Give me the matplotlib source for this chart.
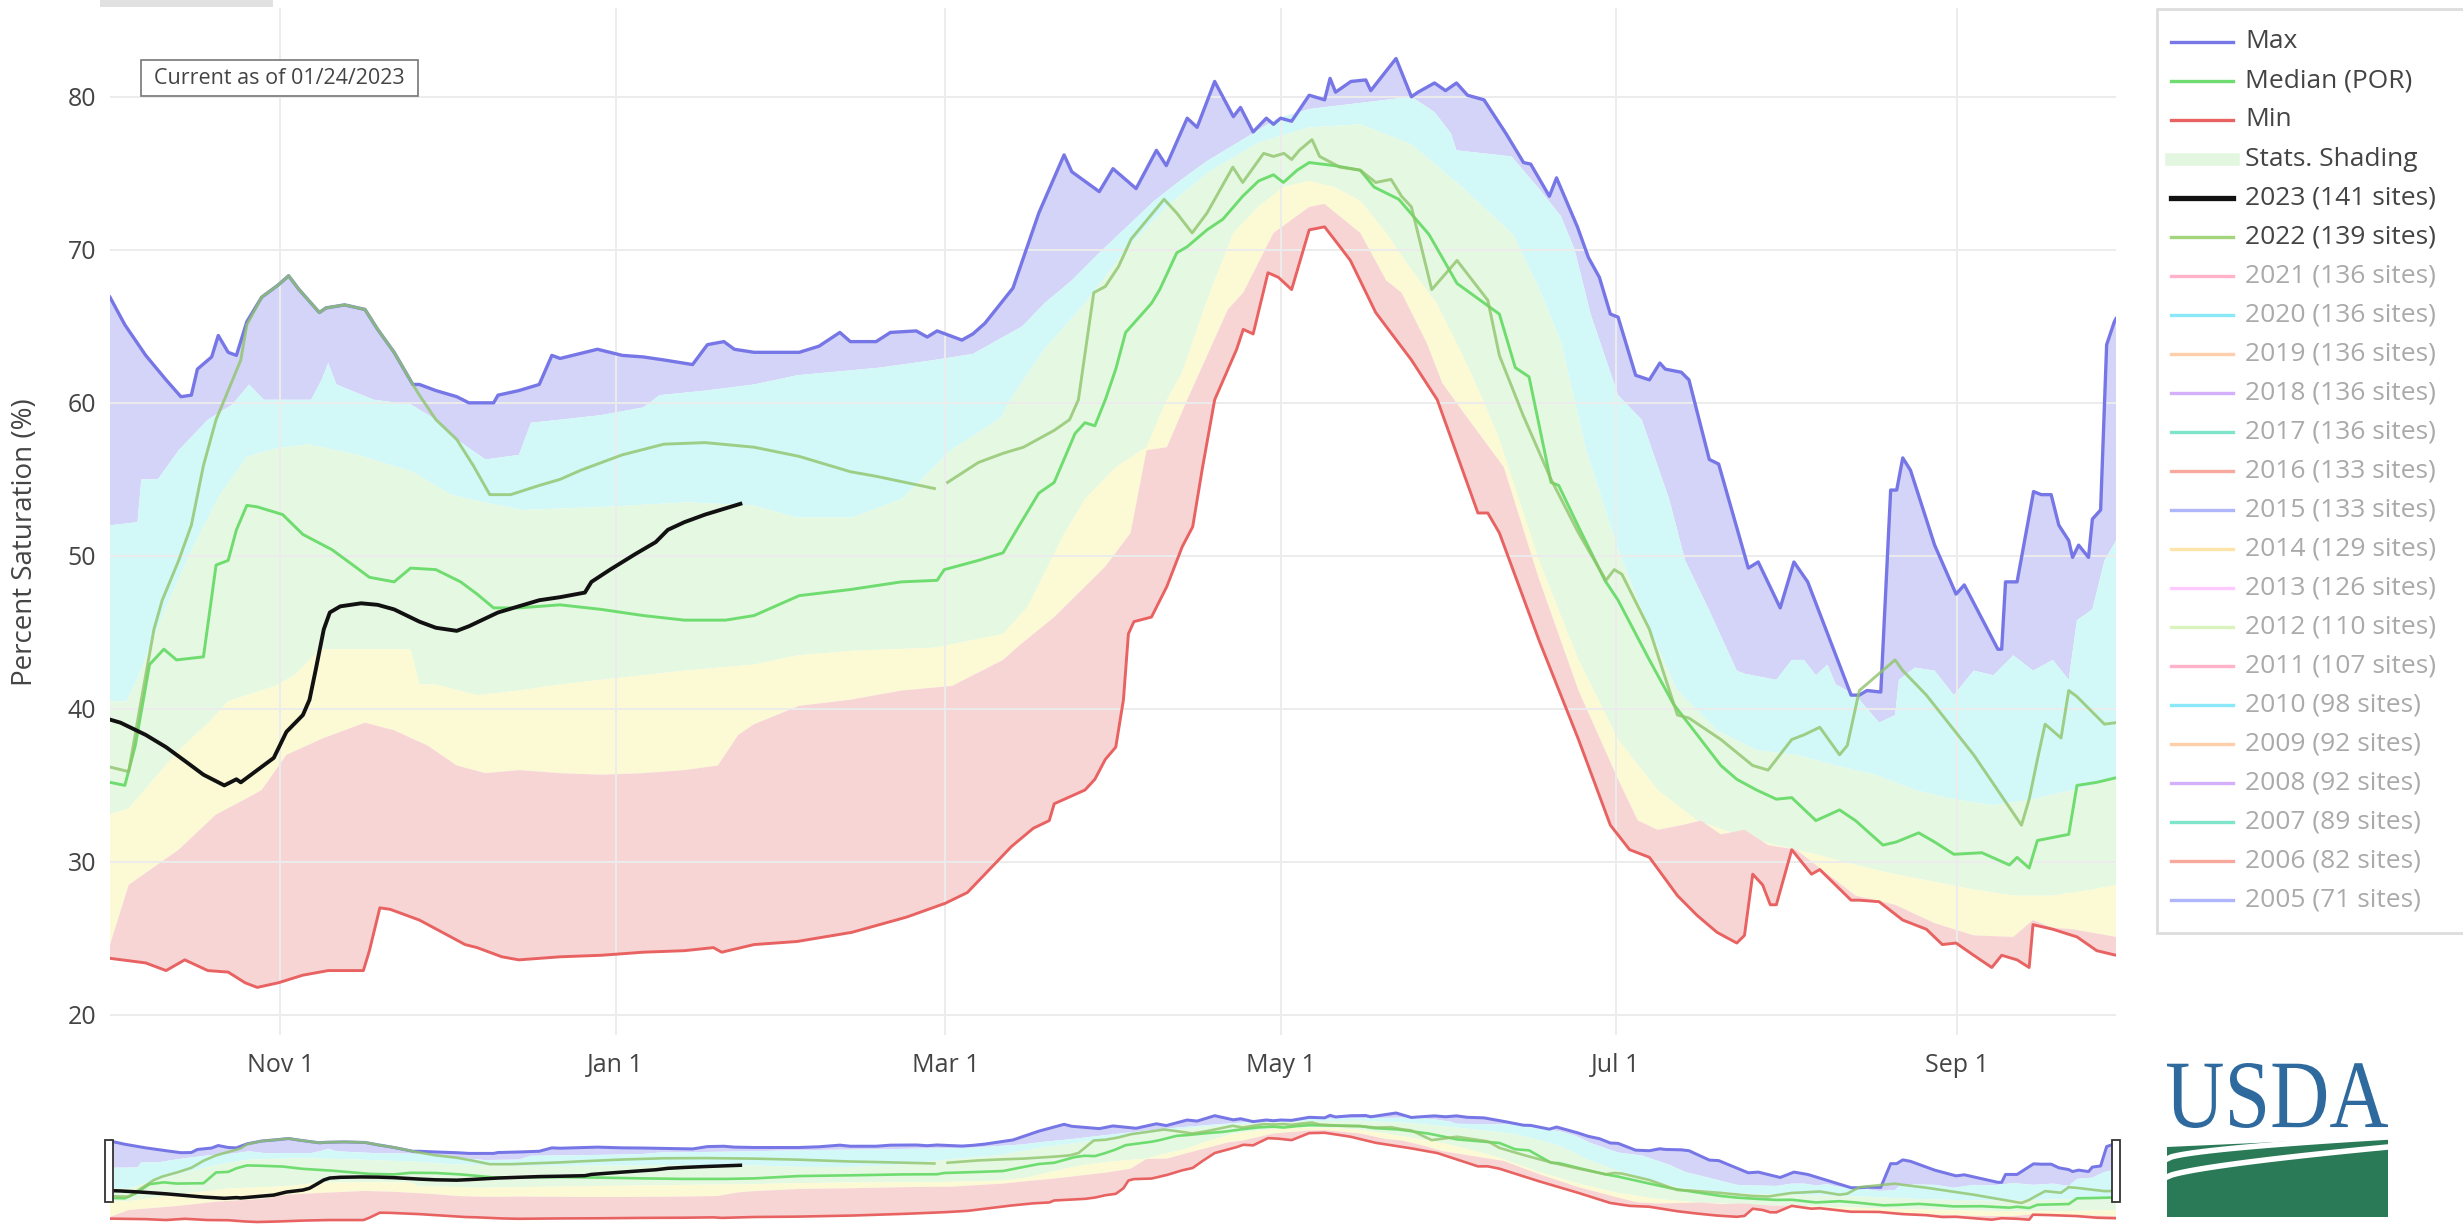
import numpy as np
import matplotlib
matplotlib.use('Agg')
import matplotlib.pyplot as plt
import matplotlib.dates as mdates
from matplotlib.patches import Rectangle, PathPatch, Polygon
from matplotlib.lines import Line2D
from matplotlib.textpath import TextPath
from matplotlib.font_manager import FontProperties
from matplotlib.transforms import Affine2D
from datetime import datetime

plt.rcParams['font.family'] = ['Open Sans', 'DejaVu Sans']

W, H = 2463, 1224
START = mdates.date2num(datetime(2019, 10, 1))   # day 0 of the water year

# [day of water year, percent saturation]
max_pts = [[0, 66.9], [2.7, 65.1], [6.5, 63.1], [10.2, 61.5], [12.9, 60.4], [14.8, 60.5], [15.9, 62.2],
           [18.5, 63.0], [19.7, 64.4], [21.5, 63.3], [23, 63.1], [24.9, 65.3], [27.6, 66.9], [30.6, 67.7],
           [32.5, 68.3], [34.4, 67.4], [38.1, 65.9], [39.3, 66.2], [42.7, 66.4], [46.4, 66.1], [48.7, 64.8],
           [51.7, 63.3], [55.1, 61.2], [56.3, 61.2], [59.3, 60.8], [63.1, 60.4], [65.3, 60.0], [69.8, 60.0],
           [70.6, 60.5], [74.4, 60.8], [78.1, 61.2], [80.4, 63.1], [81.9, 62.9], [88.7, 63.5], [93.2, 63.1],
           [97, 63.0], [100.8, 62.8], [106, 62.5], [108.7, 63.8], [111.7, 64.0], [113.6, 63.5], [117.2, 63.3],
           [125.4, 63.3], [129, 63.7], [132.8, 64.6], [134.7, 64.0], [139.4, 64.0], [142, 64.6], [146.7, 64.7],
           [148.7, 64.3], [150.5, 64.7], [155, 64.1], [157, 64.5], [159.2, 65.2], [164.3, 67.5], [169, 72.4],
           [173.6, 76.2], [175, 75.1], [180, 73.8], [182.5, 75.3], [186.7, 74.0], [190.4, 76.5], [192.2, 75.5],
           [196, 78.6], [197.8, 78.0], [201, 81.0], [204.4, 78.7], [205.7, 79.3], [208, 77.7], [210.4, 78.6],
           [211.7, 78.2], [213, 78.6], [215, 78.4], [218.2, 80.1], [221, 79.8], [222, 81.2], [223, 80.3],
           [225.8, 81.0], [228.5, 81.1], [229.4, 80.4], [234, 82.5], [236.8, 80.0], [238, 80.3], [241, 80.9],
           [243, 80.4], [245, 80.9], [247, 80.1], [250, 79.8], [254, 77.6], [257.2, 75.7], [258.5, 75.6],
           [261.9, 73.5], [263.2, 74.7], [267, 71.5], [269, 69.5], [271, 68.2], [273, 65.8], [274.4, 65.6],
           [277.6, 61.8], [280.1, 61.5], [282, 62.6], [283, 62.2], [285.9, 62.0], [287.3, 61.5], [291, 56.3],
           [292.7, 56.0], [298.1, 49.2], [299.9, 49.6], [303.9, 46.6], [306.4, 49.6], [308.9, 48.3],
           [316.8, 40.9], [318.3, 40.9], [319.7, 41.2], [322.2, 41.1], [324, 54.3], [325.1, 54.3],
           [326.2, 56.4], [327.6, 55.6], [332, 50.7], [335.9, 47.5], [337.4, 48.1], [343.5, 43.9],
           [344.2, 43.9], [344.9, 48.3], [347, 48.3], [350, 54.2], [351.4, 54.0], [353.2, 54.0], [354.6, 52.0],
           [356.4, 51.0], [357.1, 49.9], [358.2, 50.7], [360, 49.9], [360.7, 52.4], [362.2, 53.0],
           [363.3, 63.8], [364.7, 65.3], [365, 65.5]]

p90_pts = [[0, 52.0], [5, 52.2], [5.7, 55.0], [8.7, 55.0], [12.5, 56.9], [17.8, 58.9], [22.3, 59.9],
           [25.3, 61.2], [28, 60.2], [36.6, 60.2], [38.5, 61.5], [39.7, 62.6], [41.2, 61.2], [48, 60.2],
           [54.7, 59.9], [59.3, 58.9], [63.1, 57.6], [68.3, 56.3], [74.4, 56.6], [76.6, 58.7], [81.9, 58.9],
           [89.4, 59.2], [97, 59.7], [100, 60.5], [108.3, 60.8], [117.2, 61.2], [125, 61.8], [140, 62.3],
           [150, 62.8], [157, 63.2], [162, 64.2], [166, 65.0], [170, 66.5], [175, 68.0], [180, 69.8],
           [185, 71.5], [190, 73.2], [195, 74.6], [199.6, 75.8], [207, 77.4], [212, 78.5], [218.2, 79.2],
           [227.5, 79.6], [236.8, 80.0], [241, 79.0], [244, 77.6], [245, 76.5], [250, 76.3], [255, 76.1],
           [260, 74.0], [264, 72.2], [266.5, 70.0], [269.4, 65.8], [274.4, 60.5], [278.7, 58.9],
           [283.7, 53.7], [286.6, 49.7], [290.9, 46.5], [296, 42.5], [297.4, 42.3], [303.2, 41.9],
           [306, 43.2], [308.2, 43.2], [310.4, 42.2], [312.5, 42.9], [314, 41.6], [317.6, 40.9],
           [321.9, 39.1], [324.8, 39.6], [325.5, 41.9], [328.4, 42.7], [332, 42.5], [335.5, 40.9],
           [339.1, 42.5], [342.7, 42.2], [346.3, 43.5], [349.9, 42.5], [353.5, 43.2], [356.4, 41.9],
           [357.9, 45.8], [360.7, 46.5], [362.9, 49.7], [365, 51.0]]

p70_pts = [[0, 40.5], [3, 40.5], [5, 42.0], [10, 46.5], [15, 50.5], [20, 54.0], [25, 56.5], [30, 57.0],
           [36, 57.3], [45, 56.6], [55, 55.5], [62, 54.0], [68, 53.5], [75, 53.0], [90, 53.2], [105, 53.5],
           [117, 53.3], [125, 52.5], [135, 52.5], [144, 53.7], [153, 56.9], [162, 59.0], [164.3, 60.5],
           [170, 63.5], [177.4, 66.5], [184.8, 70.0], [192.2, 72.8], [199.6, 75.0], [208.9, 77.0],
           [218.2, 78.0], [227.5, 78.2], [236.8, 76.9], [246, 74.1], [255.3, 71.0], [260, 67.5],
           [264, 64.0], [268.6, 56.9], [274.4, 50.4], [280.1, 45.2], [285.2, 41.2], [292.4, 38.6],
           [299.6, 37.3], [306.8, 37.0], [314, 36.3], [321.2, 35.7], [328.4, 34.7], [335.5, 34.1],
           [342.7, 33.7], [349.9, 34.1], [357.1, 34.7], [365, 35.4]]

p30_pts = [[0, 33.1], [3.4, 33.5], [12.5, 37.3], [18.5, 39.3], [21.5, 40.5], [30, 41.5], [33.6, 42.2],
           [38.1, 43.9], [54.7, 43.9], [56.3, 41.6], [59.3, 41.6], [66.8, 40.9], [74.4, 41.2], [81.9, 41.6],
           [89.4, 41.9], [97, 42.2], [104.5, 42.5], [117.2, 42.9], [125, 43.5], [135, 43.8], [150, 44.0],
           [162.5, 44.9], [167, 46.7], [173.7, 51.5], [177.4, 53.7], [183, 55.8], [188.6, 57.1],
           [192.3, 60.2], [195.1, 62.0], [199.6, 66.7], [204.4, 71.1], [208.9, 72.8], [213.5, 74.1],
           [218.2, 74.5], [222.8, 74.1], [227.5, 73.2], [232.2, 71.1], [236.8, 68.7], [241.4, 66.5],
           [246, 63.2], [249.8, 60.2], [252.8, 57.6], [260, 49.7], [267.2, 43.2], [274.4, 38.0],
           [281.6, 34.7], [288.8, 32.7], [296, 31.8], [303.2, 31.1], [310.4, 30.5], [317.6, 29.8],
           [324.8, 29.2], [332, 28.7], [339.1, 28.2], [346.3, 27.8], [353.5, 27.8], [360.7, 28.2], [365, 28.5]]

p10_pts = [[0, 24.6], [3.4, 28.5], [12.5, 30.8], [19.3, 33.1], [24.6, 34.1], [27.6, 34.7], [32.1, 37.0],
           [38.9, 38.1], [46.4, 39.1], [51.7, 38.6], [57.8, 37.6], [63.1, 36.3], [68.3, 35.8], [74.4, 36.0],
           [81.9, 35.8], [89.4, 35.7], [97, 35.8], [104.5, 36.0], [110.6, 36.3], [114.3, 38.3],
           [117.2, 39.0], [125.4, 40.2], [134.7, 40.6], [144, 41.2], [153.2, 41.5], [162.5, 43.2],
           [165.3, 44.1], [171.8, 46.0], [181.1, 49.3], [185.7, 51.5], [188.6, 56.9], [192.3, 57.1],
           [196, 60.2], [203.4, 66.1], [206.2, 67.2], [211.7, 71.1], [218.2, 72.8], [221, 73.0],
           [227.5, 71.1], [232.2, 68.0], [235, 67.2], [239.6, 63.9], [242.4, 61.3], [246, 59.5],
           [253.6, 55.8], [260, 48.5], [267.2, 41.2], [274.4, 35.4], [278, 32.7], [281.6, 32.1],
           [285.9, 32.4], [289.5, 32.7], [293.1, 31.8], [297.4, 32.1], [301.7, 31.1], [306.8, 30.8],
           [310.4, 29.8], [317.6, 27.8], [324.8, 27.2], [332, 26.0], [339.1, 25.2], [346.3, 25.1],
           [349.9, 26.2], [353.5, 25.7], [357.1, 25.6], [365, 25.1]]

min_pts = [[0, 23.7], [6.5, 23.4], [10.2, 22.9], [13.6, 23.6], [17.8, 22.9], [21.5, 22.8], [24.6, 22.1],
           [26.8, 21.8], [30.6, 22.1], [35.1, 22.6], [39.7, 22.9], [46.1, 22.9], [47.2, 24.2], [49.1, 27.0],
           [51, 26.9], [56.3, 26.2], [61.5, 25.2], [64.6, 24.6], [66.8, 24.4], [71.3, 23.8], [74.4, 23.6],
           [81.9, 23.8], [89.4, 23.9], [97, 24.1], [104.5, 24.2], [109.8, 24.4], [111.3, 24.1],
           [117.2, 24.6], [125, 24.8], [135, 25.4], [145, 26.4], [152, 27.3], [156, 28.0], [160, 29.5],
           [164, 31.0], [168, 32.2], [170.9, 32.7], [171.8, 33.8], [177.4, 34.7], [179.2, 35.4],
           [181.1, 36.7], [183, 37.5], [184.4, 40.6], [185.3, 44.9], [186.3, 45.7], [189.5, 46.0],
           [192.3, 48.0], [195.1, 50.6], [197, 51.9], [198.8, 55.8], [201, 60.2], [205, 63.5],
           [206.2, 64.8], [208, 64.5], [210.7, 68.5], [212.6, 68.2], [215, 67.4], [218.2, 71.3],
           [221, 71.5], [223.8, 70.2], [225.7, 69.3], [230.3, 65.9], [236.8, 62.8], [241.5, 60.2],
           [248.9, 52.8], [250.7, 52.8], [252.8, 51.5], [260, 44.5], [267.2, 38.0], [273, 32.4],
           [276.5, 30.8], [280.1, 30.3], [285.2, 27.8], [288.8, 26.5], [292.4, 25.4], [296, 24.7],
           [297.4, 25.2], [298.9, 29.2], [300.7, 28.5], [302.1, 27.2], [303.2, 27.2], [306, 30.8],
           [309.6, 29.2], [311.1, 29.5], [316.8, 27.5], [318.3, 27.5], [321.9, 27.4], [326.2, 26.2],
           [330.5, 25.6], [333.4, 24.6], [335.9, 24.7], [339.1, 23.9], [342.4, 23.1], [344.2, 23.9],
           [347, 23.6], [349.2, 23.1], [349.9, 25.9], [353.5, 25.6], [357.9, 25.1], [361.5, 24.2], [365, 23.9]]

median_pts = [[0, 35.2], [2.7, 35.0], [4.6, 37.6], [7.2, 42.9], [9.8, 43.9], [12.1, 43.2], [17, 43.4],
              [19.3, 49.4], [21.5, 49.7], [23, 51.7], [24.9, 53.3], [26.8, 53.2], [31.4, 52.7], [35.1, 51.4],
              [40.4, 50.4], [44.2, 49.4], [47.2, 48.6], [51.7, 48.3], [54.7, 49.2], [59.3, 49.1],
              [63.8, 48.3], [66.8, 47.5], [69.8, 46.6], [74.4, 46.6], [81.9, 46.8], [89.4, 46.5], [97, 46.1],
              [104.5, 45.8], [112, 45.8], [117.2, 46.1], [125.4, 47.4], [134.7, 47.8], [144, 48.3],
              [150.5, 48.4], [151.8, 49.1], [158, 49.7], [162.5, 50.2], [165.3, 51.9], [169, 54.1],
              [171.8, 54.8], [175.6, 58.0], [177.4, 58.7], [179.2, 58.5], [181.1, 60.2], [183, 62.2],
              [184.8, 64.6], [189.5, 66.5], [191, 67.4], [194.1, 69.8], [196, 70.2], [199.6, 71.3],
              [202.5, 72.0], [206.1, 73.5], [209, 74.5], [211.7, 74.9], [213.5, 74.4], [216, 75.2],
              [218.2, 75.7], [222.8, 75.5], [227.5, 75.2], [230, 74.1], [234.5, 73.3], [240, 71.0],
              [245.1, 67.8], [252.8, 65.8], [255.7, 62.3], [258.2, 61.7], [262.2, 54.8], [263.6, 54.6],
              [267.2, 51.9], [272, 48.4], [274.4, 47.1], [280.1, 43.2], [284.5, 40.3], [287.3, 39.0],
              [293.1, 36.3], [296, 35.4], [299.6, 34.7], [303.2, 34.1], [306, 34.2], [310.4, 32.7],
              [314.7, 33.4], [317.6, 32.7], [322.6, 31.1], [325, 31.3], [329.1, 31.9], [332, 31.3],
              [335.5, 30.5], [340.6, 30.6], [345.6, 29.8], [347, 30.3], [349.2, 29.6], [350.7, 31.4],
              [356.4, 31.8], [357.9, 35.0], [361.5, 35.2], [365, 35.5]]

wy2022_pts = [[0, 36.2], [3.4, 35.9], [5.7, 40.6], [8, 45.2], [9.5, 47.1], [12.5, 49.7], [14.8, 52.0],
              [17, 55.9], [19.3, 58.9], [21.5, 60.8], [23.8, 62.8], [24.9, 65.1], [27.6, 66.9], [30.6, 67.7],
              [32.5, 68.3], [34.4, 67.4], [38.1, 65.9], [39.3, 66.2], [42.7, 66.4], [46.4, 66.1],
              [48.7, 64.8], [51.7, 63.3], [55.1, 61.2], [56.3, 60.5], [59.3, 58.9], [63.1, 57.6],
              [66.1, 55.9], [69.1, 54.0], [72.9, 54.0], [78.1, 54.6], [81.9, 55.0], [85.7, 55.6],
              [93.2, 56.6], [100.8, 57.3], [108.3, 57.4], [117.2, 57.1], [125.4, 56.5], [134.7, 55.5],
              [139.4, 55.2], [148.7, 54.5], [150, 54.4], [151, np.nan], [152.4, 54.8], [158, 56.1],
              [162.5, 56.7], [166.2, 57.1], [171.8, 58.2], [174.6, 58.9], [176.2, 60.2], [179, 67.2],
              [181.1, 67.6], [183.5, 68.9], [185.8, 70.7], [191.8, 73.3], [194.1, 72.4], [196.9, 71.1],
              [199.6, 72.4], [204.3, 75.4], [206.1, 74.4], [209.9, 76.3], [211.7, 76.1], [213.6, 76.3],
              [215, 75.9], [216.4, 76.5], [218.7, 77.2], [220.1, 76.1], [223.8, 75.4], [227.5, 75.2],
              [230.3, 74.4], [233.1, 74.6], [235, 73.5], [236.8, 72.8], [240.5, 67.4], [245.1, 69.3],
              [250.7, 66.7], [252.8, 63.1], [257.1, 59.2], [262.2, 55.0], [267.2, 51.5], [272.2, 48.4],
              [273.7, 49.1], [275.1, 48.8], [280.1, 45.2], [285.2, 39.6], [287.3, 39.4], [293.1, 38.0],
              [298.9, 36.3], [301.7, 36.0], [306, 38.0], [308.2, 38.3], [311.1, 38.8], [314.7, 37.0],
              [316.1, 37.6], [318.3, 41.2], [324.8, 43.2], [326.2, 42.5], [330.5, 40.9], [339.1, 37.0],
              [347.8, 32.4], [349.2, 34.1], [350.7, 36.7], [352.1, 39.0], [355, 38.1], [356.4, 41.2],
              [357.9, 40.8], [362.9, 39.0], [365, 39.1]]

wy2023_pts = [[0, 39.3], [1.9, 39.1], [6.5, 38.3], [10.2, 37.5], [14, 36.5], [17, 35.7], [20.8, 35.0],
              [23, 35.4], [23.8, 35.2], [26.8, 36.0], [29.8, 36.8], [32.1, 38.5], [35.1, 39.6], [36.3, 40.6],
              [37.4, 42.5], [38.9, 45.2], [40, 46.3], [41.9, 46.7], [45.7, 46.9], [48.7, 46.8], [51.7, 46.5],
              [56.3, 45.7], [59.3, 45.3], [63.1, 45.1], [65.3, 45.4], [70.6, 46.3], [78.1, 47.1],
              [81.9, 47.3], [86.4, 47.6], [87.6, 48.3], [91, 49.1], [95.5, 50.1], [99.3, 50.9],
              [101.5, 51.7], [104.5, 52.2], [108.3, 52.7], [114.7, 53.4]]

legend_names = ['Max', 'Median (POR)', 'Min', 'Stats. Shading', '2023 (141 sites)', '2022 (139 sites)',
                '2021 (136 sites)', '2020 (136 sites)', '2019 (136 sites)', '2018 (136 sites)',
                '2017 (136 sites)', '2016 (133 sites)', '2015 (133 sites)', '2014 (129 sites)',
                '2013 (126 sites)', '2012 (110 sites)', '2011 (107 sites)', '2010 (98 sites)',
                '2009 (92 sites)', '2008 (92 sites)', '2007 (89 sites)', '2006 (82 sites)', '2005 (71 sites)']

C_MAX, C_MED, C_MIN = '#7676e6', '#6fdc6f', '#e86262'
C_2022, C_2023 = '#8fc46a', '#111111'
BAND_COLORS = ['#d4d4f8', '#d3f8f8', '#e4f8e2', '#fbfad4', '#f8d5d5']
PALETTE = ['#636efa', '#EF553B', '#00cc96', '#ab63fa', '#FFA15A',
           '#19d3f3', '#FF6692', '#B6E880', '#FF97FF', '#FECB52']


def xy(pts):
    a = np.array(pts, dtype=float)
    return START + a[:, 0], a[:, 1]


def draw(ax, lw):
    bounds = [max_pts, p90_pts, p70_pts, p30_pts, p10_pts, min_pts]
    for upper, lower, col in zip(bounds[:-1], bounds[1:], BAND_COLORS):
        xu, yu = xy(upper)
        xl, yl = xy(lower)
        ax.fill(np.r_[xu, xl[::-1]], np.r_[yu, yl[::-1]], color=col, lw=0, zorder=1)
    for pts, col, w, a in [(max_pts, C_MAX, 2.4, 1), (median_pts, C_MED, 2.1, 1), (min_pts, C_MIN, 2.1, 1),
                           (wy2022_pts, C_2022, 2.1, 0.8), (wy2023_pts, C_2023, 2.8, 1)]:
        x, y = xy(pts)
        ax.plot(x, y, color=col, lw=w * lw, alpha=a, zorder=3, solid_joinstyle='round')


fig = plt.figure(figsize=(W / 100, H / 100), dpi=100)

# main panel
ax = fig.add_axes([110 / W, 1 - 1035 / H, 2006 / W, 1027 / H])
draw(ax, 1.0)
ax.set_xlim(START, START + 365)
ax.set_ylim(18.69, 85.8)
ax.set_yticks([20, 30, 40, 50, 60, 70, 80])
ax.xaxis.set_major_locator(mdates.MonthLocator(bymonth=[11, 1, 3, 5, 7, 9]))
ax.xaxis.set_major_formatter(mdates.DateFormatter('%b 1'))
ax.grid(True, color='#ececec', lw=1.4)
ax.set_axisbelow('line')
ax.tick_params(length=0, labelsize=18, labelcolor='#444444')
ax.tick_params(axis='x', pad=13)
ax.tick_params(axis='y', pad=10)
for s in ax.spines.values():
    s.set_visible(False)

fig.text(25 / W, 1 - 542 / H, 'Percent Saturation (%)', rotation=90, ha='center', va='center',
         fontsize=20, color='#444444')

# "current as of" box
fig.patches.append(Rectangle((141 / W, 1 - 96 / H), 277 / W, 36 / H, transform=fig.transFigure,
                             facecolor='white', edgecolor='#777777', lw=1.2, zorder=5))
fig.text(279.5 / W, 1 - 78 / H, 'Current as of 01/24/2023', ha='center', va='center',
         fontsize=15.5, color='#444444', zorder=6)

# range-selector button stub at the top
fig.patches.append(Rectangle((100 / W, 1 - 7 / H), 173 / W, 7 / H, transform=fig.transFigure,
                             facecolor='#e1e1e1', edgecolor='none'))

# range slider
sax = fig.add_axes([110 / W, 0, 2006 / W, 118 / H])
draw(sax, 0.9)
sax.set_xlim(START, START + 365)
sax.set_ylim(20.7, 86.4)
sax.axis('off')
for x0 in (105, 2112):
    fig.patches.append(Rectangle((x0 / W, 1 - 1202 / H), 8 / W, 62 / H, transform=fig.transFigure,
                                 facecolor='white', edgecolor='#333333', lw=1.3, zorder=6))

# legend
fig.patches.append(Rectangle((2157 / W, 1 - 933 / H), 320 / W, 924 / H, transform=fig.transFigure,
                             facecolor='white', edgecolor='#dddddd', lw=2))
year_cols = [PALETTE[(2021 - 2005 - i) % 10] for i in range(17)]
for i, name in enumerate(legend_names):
    yy = 1 - (42 + 39 * i) / H
    if i < 6:
        col = [C_MAX, C_MED, C_MIN, '#e3f6df', C_2023, '#a4d47c'][i]
        lw = [2.4, 2.4, 2.4, 9, 3.8, 2.4][i]
        alpha, tcol = 1.0, '#444444'
    else:
        col, lw, alpha, tcol = year_cols[i - 6], 2.4, 0.5, '#aaaaaa'
    fig.lines.append(Line2D([2171 / W, 2233 / W], [yy, yy], transform=fig.transFigure,
                            color=col, lw=lw, alpha=alpha))
    fig.text(2245 / W, yy, name, ha='left', va='center', fontsize=19, color=tcol)

# USDA logo
lax = fig.add_axes([2167 / W, 1 - 1217 / H, 221 / W, 154 / H])
lax.set_xlim(0, 221)
lax.set_ylim(0, 154)
lax.axis('off')
tp = TextPath((0, 0), 'USDA', size=100, prop=FontProperties(family='Liberation Serif'))
ext = tp.get_extents()
tr = Affine2D().translate(-ext.x0, -ext.y0).scale(221 / ext.width, 65 / ext.height).translate(0, 89)
lax.add_patch(PathPatch(tr.transform_path(tp), facecolor='#2f6a9e', edgecolor='none'))
lax.add_patch(Rectangle((0, 0), 221, 80, facecolor='#2a7a58', edgecolor='none'))
t = np.linspace(0, 1, 50)
lax.plot(221 * t, 58 + 22 * t ** 0.6, color='white', lw=4)
lax.plot(221 * t, 40 + 30 * t ** 0.7, color='white', lw=4)
lax.add_patch(Polygon([[0, 80], [0, 70], [221, 80]], facecolor='white', edgecolor='none'))

fig.savefig('out.png', dpi=100)
